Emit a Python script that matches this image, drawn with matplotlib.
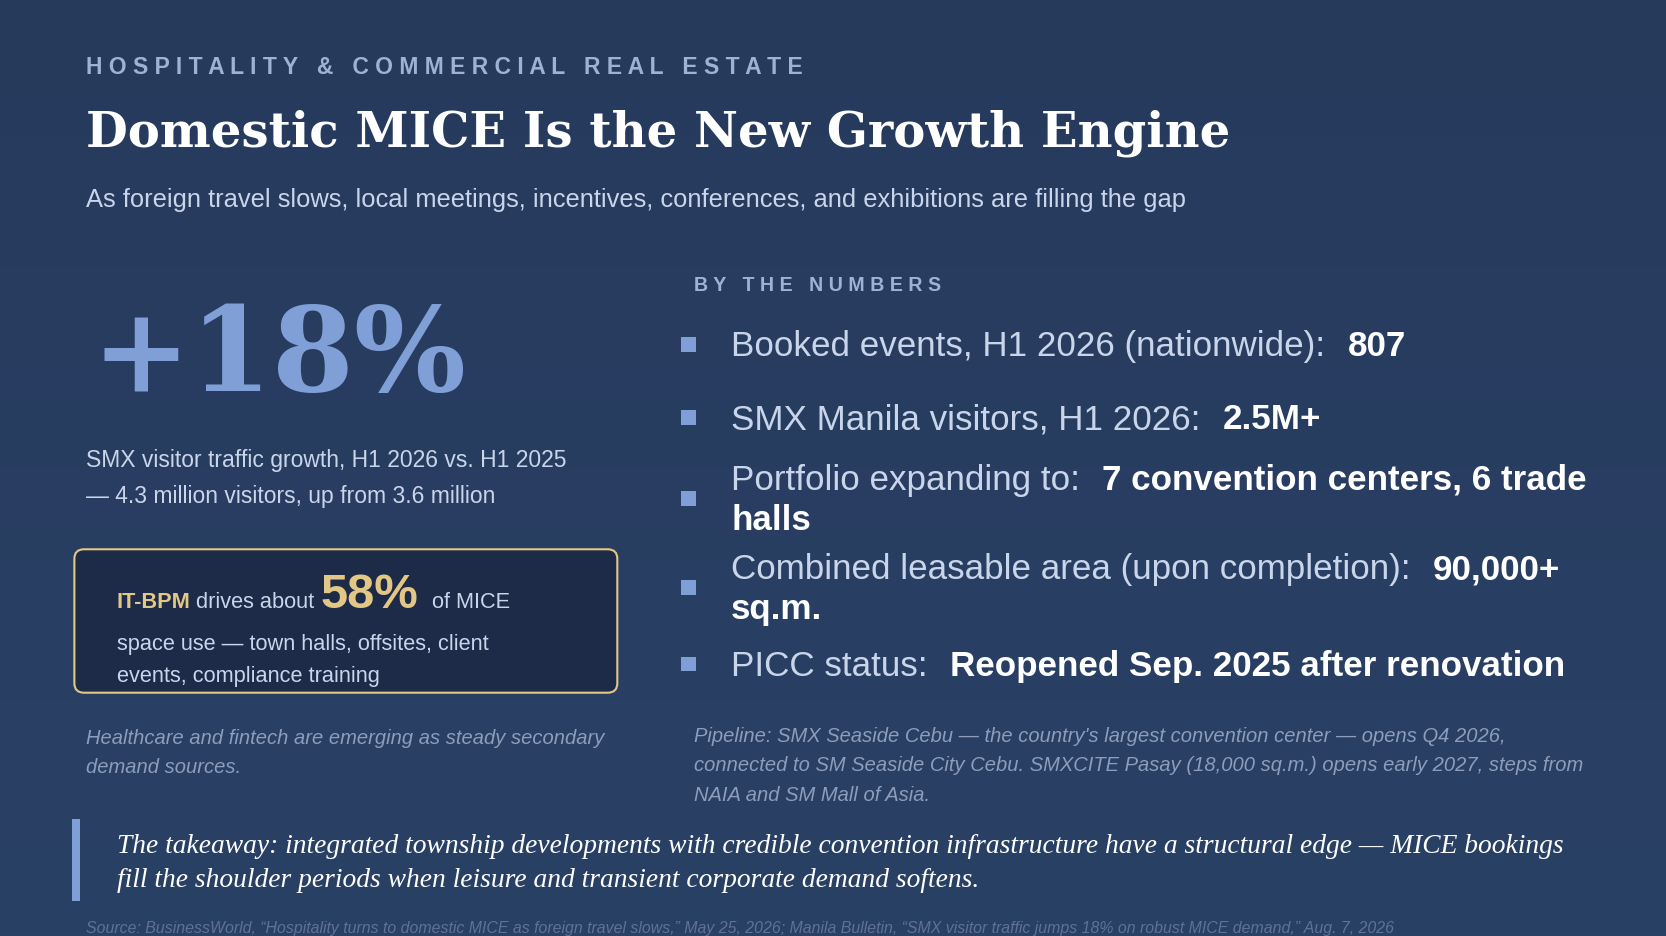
import matplotlib
matplotlib.use("Agg")
import matplotlib.pyplot as plt
import numpy as np
from matplotlib.patches import FancyBboxPatch, Rectangle
from matplotlib.colors import LinearSegmentedColormap

W, H = 1568, 881          # layout grid (reference pixels, scaled to output)
SCALE = 1666 / W

KICKER = "HOSPITALITY & COMMERCIAL REAL ESTATE"
TITLE = "Domestic MICE Is the New Growth Engine"
SUBTITLE = ("As foreign travel slows, local meetings, incentives, conferences, "
            "and exhibitions are filling the gap")
BIG_STAT = "+18%"
STAT_NOTE = ["SMX visitor traffic growth, H1 2026 vs. H1 2025",
             "\u2014 4.3 million visitors, up from 3.6 million"]
BOX_SHARE = "58%"
BULLET_LABELS = [
    ["Booked events, H1 2026 (nationwide):"],
    ["SMX Manila visitors, H1 2026:"],
    ["Portfolio expanding to:"],
    ["Combined leasable area (upon completion):"],
    ["PICC status:"],
]
BULLET_VALUES = [
    ["807"],
    ["2.5M+"],
    ["7 convention centers, 6 trade", "halls"],
    ["90,000+", "sq.m."],
    ["Reopened Sep. 2025 after renovation"],
]
PIPELINE = ["Pipeline: SMX Seaside Cebu \u2014 the country's largest convention center \u2014 opens Q4 2026,",
            "connected to SM Seaside City Cebu. SMXCITE Pasay (18,000 sq.m.) opens early 2027, steps from",
            "NAIA and SM Mall of Asia."]
TAKEAWAY = ["The takeaway: integrated township developments with credible convention infrastructure have a structural edge \u2014 MICE bookings",
            "fill the shoulder periods when leisure and transient corporate demand softens."]
SOURCE = ("Source: BusinessWorld, \u201cHospitality turns to domestic MICE as foreign travel slows,\u201d May 25, 2026; "
          "Manila Bulletin, \u201cSMX visitor traffic jumps 18% on robust MICE demand,\u201d Aug. 7, 2026")

BG = "#273d60"
ACCENT = "#7f9fd6"
LIGHT = "#c9d5ea"
MUTED = "#8d9dbb"
GOLD = "#e3c785"
WHITE = "#ffffff"
SANS = ["Liberation Sans", "DejaVu Sans"]
SERIF = ["DejaVu Serif"]
SERIF2 = ["Liberation Serif", "DejaVu Serif"]

fig = plt.figure(figsize=(16.66, 9.36), dpi=100)
fig.patch.set_facecolor(BG)
ax = fig.add_axes([0, 0, 1, 1])
ax.set_xlim(0, W)
ax.set_ylim(H, 0)
ax.axis("off")

# subtle vertical gradient
grad = np.linspace(0, 1, 256).reshape(-1, 1)
cmap = LinearSegmentedColormap.from_list("bg", ["#263a5c", "#2a4166"])
ax.imshow(grad, extent=[0, W, H, 0], cmap=cmap, aspect="auto", zorder=0)


def pt(px):
    return px * SCALE * 0.72


def txt(x, y, s, size, color=LIGHT, family=SANS, weight="normal", style="normal", **kw):
    return ax.text(x, y, s, fontsize=pt(size), color=color, family=family,
                   weight=weight, style=style, va="baseline", ha="left", zorder=3, **kw)


def after(t, gap=0):
    fig.canvas.draw()
    bb = t.get_window_extent()
    inv = ax.transData.inverted()
    return inv.transform((bb.x1, bb.y0))[0] + gap


# header
txt(81, 70, "   ".join(" ".join(w) for w in KICKER.split(" ")), 21.5, color="#9fb2d6", weight="bold")
txt(81, 138, TITLE, 45.3, color=WHITE, family=SERIF, weight="bold")
txt(81, 195, SUBTITLE, 24, color=LIGHT)

# big stat
txt(86, 368, BIG_STAT, 111, color=ACCENT, family=SERIF, weight="bold")
for i, line in enumerate(STAT_NOTE):
    txt(81, 440 + i * 33, line, 21.5, color=LIGHT)

# IT-BPM box
ax.add_patch(FancyBboxPatch((70, 517), 511, 135, boxstyle="round,pad=0,rounding_size=9",
                            facecolor="#1d2b49", edgecolor=GOLD, linewidth=1.5, zorder=2))
t = txt(110, 572, "IT-BPM", 20.5, color=GOLD, weight="bold")
t = txt(after(t, 5), 572, "drives about", 20.5)
t = txt(after(t, 6), 572, BOX_SHARE, 46, color=GOLD, weight="bold")
txt(after(t, 13), 572, "of MICE", 20.5)
txt(110, 612, "space use \u2014 town halls, offsites, client", 20.5)
txt(110, 642, "events, compliance training", 20.5)

txt(81, 700, "Healthcare and fintech are emerging as steady secondary", 19, color=MUTED, style="italic")
txt(81, 728, "demand sources.", 19, color=MUTED, style="italic")

# by the numbers
txt(653, 274, "   ".join(" ".join(w) for w in "BY THE NUMBERS".split(" ")), 18.5, color="#9fb2d6", weight="bold")
baselines = [335, 404, 461, 545, 636]
for i, y0 in enumerate(baselines):
    nlines = max(len(BULLET_LABELS[i]), len(BULLET_VALUES[i]))
    ymid = y0 - 11 + (nlines - 1) * 19
    ax.add_patch(Rectangle((641, ymid - 7), 14, 14, facecolor=ACCENT, edgecolor="none", zorder=3))
    t = txt(688, y0, BULLET_LABELS[i][0], 33, color=LIGHT)
    x2 = after(t, 21)
    txt(x2, y0, BULLET_VALUES[i][0], 33, color=WHITE, weight="bold")
    for j, line in enumerate(BULLET_VALUES[i][1:], 1):
        txt(688, y0 + j * 38, line, 33, color=WHITE, weight="bold")

for i, line in enumerate(PIPELINE):
    txt(653, 698 + i * 28, line, 19, color=MUTED, style="italic")

# takeaway
ax.add_patch(Rectangle((68, 771), 7, 77, facecolor=ACCENT, edgecolor="none", zorder=3))
for i, line in enumerate(TAKEAWAY):
    txt(110, 803 + i * 32, line, 25.9, color=WHITE, family=SERIF2, style="italic")

txt(81, 878, SOURCE, 15, color="#5f7194", style="italic")

fig.savefig("out.png", dpi=100, facecolor=BG)
